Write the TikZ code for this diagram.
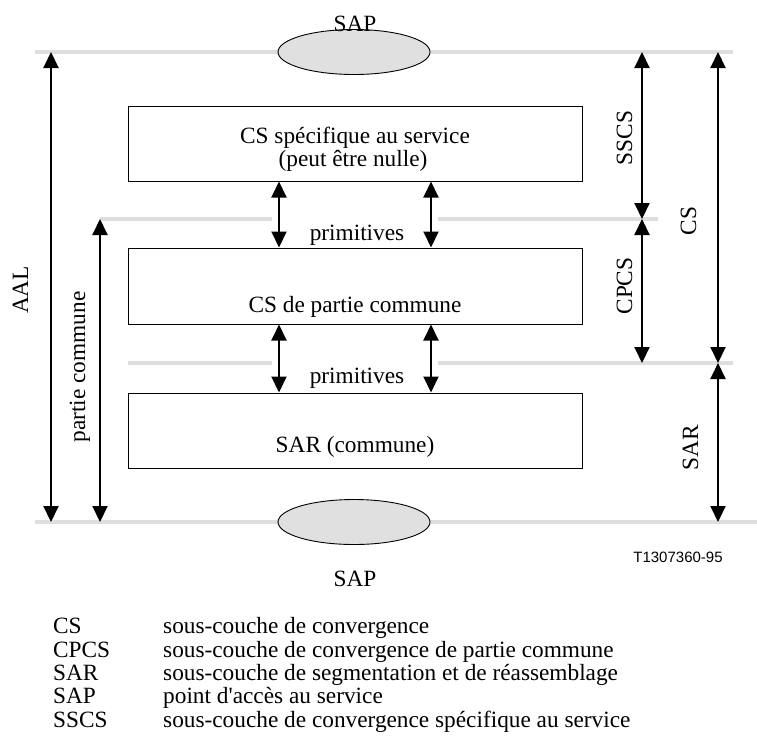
\documentclass[tikz,border=0pt]{standalone}
\usepackage{fontspec}
\setmainfont{Liberation Serif}
\newfontfamily\figsans{Liberation Sans}
\usetikzlibrary{arrows.meta,shapes.geometric}
\definecolor{rulegray}{RGB}{222,222,222}
\definecolor{sapfill}{RGB}{224,224,224}
\begin{document}
\begin{tikzpicture}[x=1pt,y=-1pt,
  every node/.style={font=\fontsize{23.3}{27}\selectfont, inner sep=0pt},
  layerbox/.style={draw, line width=1pt, minimum width=454pt},
  sap/.style={ellipse, draw, line width=0.9pt, fill=sapfill, minimum width=152pt, minimum height=45pt},
  rulel/.style={rulegray, line width=3.5pt},
  dimline/.style={line width=2pt, {Triangle[length=16pt,width=15pt]}-{Triangle[length=16pt,width=15pt]}},
  lbl/.style={anchor=base},
  vlbl/.style={anchor=base, rotate=90},
  legkey/.style={anchor=base west},
]
\useasboundingbox (0,0) rectangle (757,753);

% reference levels and columns
\coordinate (yT) at (0,52);
\coordinate (y1) at (0,219);
\coordinate (y2) at (0,363);
\coordinate (yB) at (0,522);
\coordinate (xAAL) at (51,0);
\coordinate (xPC) at (100,0);
\coordinate (xL) at (279,0);
\coordinate (xR) at (431,0);
\coordinate (xSS) at (642,0);
\coordinate (xCS) at (718,0);

% light boundary rules
\draw[rulel] (35,52) -- (733,52);
\draw[rulel] (100,219) -- (272,219);
\draw[rulel] (438,219) -- (658,219);
\draw[rulel] (128,363) -- (272,363);
\draw[rulel] (438,363) -- (733,363);
\draw[rulel] (35,522) -- (757,522);

% service access points
\node[sap] (sapT) at (354,52) {};
\node[sap] (sapB) at (354,522) {};

% sublayer boxes
\node[layerbox, minimum height=75pt] (b1) at (355,143.5) {};
\node[layerbox, minimum height=76pt] (b2) at (355,286) {};
\node[layerbox, minimum height=75pt] (b3) at (355,430.5) {};

% primitives between boxes
\draw[dimline] (b1.south -| xL) -- (b2.north -| xL);
\draw[dimline] (b1.south -| xR) -- (b2.north -| xR);
\draw[dimline] (b2.south -| xL) -- (b3.north -| xL);
\draw[dimline] (b2.south -| xR) -- (b3.north -| xR);

% extent arrows
\draw[dimline] (yT -| xAAL) -- (yB -| xAAL);
\draw[dimline] (y1 -| xPC) -- (yB -| xPC);
\draw[dimline] (yT -| xSS) -- (y1 -| xSS);
\draw[dimline] (y1 -| xSS) -- (y2 -| xSS);
\draw[dimline] (yT -| xCS) -- (y2 -| xCS);
\draw[dimline] (y2 -| xCS) -- (yB -| xCS);

% texts
\node[lbl] (tSAPt) at (355,31) {SAP};
\node[lbl] (t1a) at (355,143) {CS spécifique au service};
\node[lbl] (t1b) at (353,166) {(peut être nulle)};
\node[lbl] (tp1) at (357,240) {primitives};
\node[lbl] (t2) at (355,312) {CS de partie commune};
\node[lbl] (tp2) at (357,383) {primitives};
\node[lbl] (t3) at (355,452) {SAR (commune)};
\node[lbl] (tSAPb) at (355,586) {SAP};
\node[lbl, font=\figsans\fontsize{15}{18}\selectfont] (tcode) at (678,562) {T1307360-95};

\node[vlbl] (lSSCS) at (632,138) {SSCS};
\node[vlbl] (lCS) at (696,221) {CS};
\node[vlbl] (lCPCS) at (632,286) {CPCS};
\node[vlbl] (lSAR) at (698,448) {SAR};
\node[vlbl] (lAAL) at (28,290) {AAL};
\node[vlbl] (lPC) at (85,367) {partie commune};

% legend
\node[legkey] (k1) at (53,633) {CS};
\node[legkey] (d1) at (163,633) {sous-couche de convergence};
\node[legkey] (k2) at (53,657) {CPCS};
\node[legkey] (d2) at (163,657) {sous-couche de convergence de partie commune};
\node[legkey] (k3) at (53,680) {SAR};
\node[legkey] (d3) at (163,680) {sous-couche de segmentation et de réassemblage};
\node[legkey] (k4) at (53,703) {SAP};
\node[legkey] (d4) at (163,703) {point d\textquotesingle accès au service};
\node[legkey] (k5) at (53,727) {SSCS};
\node[legkey] (d5) at (163,727) {sous-couche de convergence spécifique au service};
\end{tikzpicture}
\end{document}
